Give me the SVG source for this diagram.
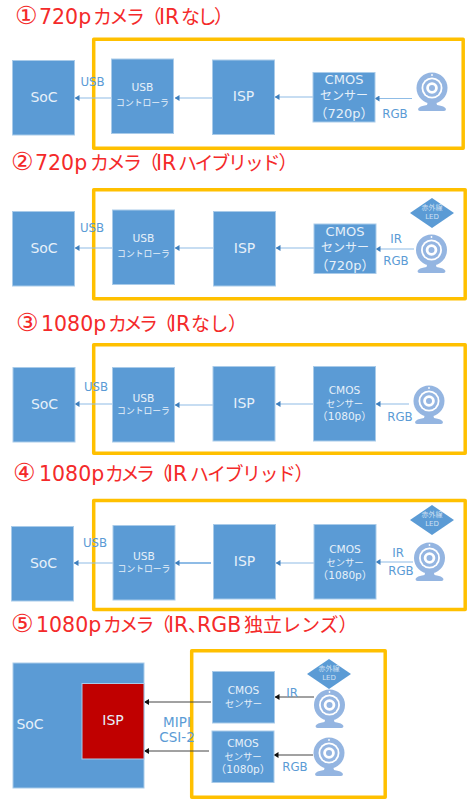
<svg xmlns="http://www.w3.org/2000/svg" xmlns:xlink="http://www.w3.org/1999/xlink" width="468" height="800" viewBox="0 0 468 800">
<style>
text{font-family:"DejaVu Sans","Noto Sans CJK JP",sans-serif;text-anchor:middle;dominant-baseline:central}
.t{fill:#f42a2a;font-size:20.5px;text-anchor:start;dominant-baseline:auto}
.q{font-size:19px}.o{font-size:25px}
.g{fill:#fff;stroke:#ffc000;stroke-width:3.5;stroke-linejoin:round}
.b{fill:#5b9bd5;stroke:#a9cbe9;stroke-width:1}
.r{fill:#c00000;stroke:#a9cbe9;stroke-width:1}
.w{fill:#e6f0f9}
.m{font-size:14px}.u{font-size:10.7px}.k{font-size:8.8px}.c{font-size:13px}.j{font-size:12px}.s{font-size:10.6px}.n{font-size:9.3px}
.l{fill:#5b9bd5;font-size:11.8px}.h{font-size:13.5px}
.e{font-size:7px;fill:#cfe0f2}
.a{fill:none;stroke:#8fbce6;stroke-width:1.2;marker-end:url(#ab)}
.d{fill:none;stroke:#444;stroke-width:1;marker-end:url(#ak)}
.cam{fill:#94b5e1}
</style>
<defs>
<marker id="ab" markerUnits="userSpaceOnUse" markerWidth="5" markerHeight="6" refX="4.500" refY="3" orient="auto"><path d="M0 0L5 3L0 6Z" fill="#3f7fbd"/></marker>
<marker id="ak" markerUnits="userSpaceOnUse" markerWidth="5" markerHeight="6" refX="4.500" refY="3" orient="auto"><path d="M0 0L5 3L0 6Z" fill="#111"/></marker>
<g id="camera">
<path class="cam" d="M-4 13L-5 17Q-13 18-14 21Q-14 23-12 23L12 23Q14 23 14 21Q13 18 5 17L4 13Z"/>
<circle class="cam" r="15.5"/>
<circle r="10.500" fill="#fff"/><circle class="cam" r="8.700"/><circle r="5.800" fill="#fff"/><circle r="3" fill="#94b5e1"/>
<circle cy="-13" r="0.9" fill="#fff"/>
</g>
<path id="led" d="M0 -15L22 0L0 15L-22 0Z" fill="#5b9bd5"/>
</defs>

<g id="titles">
<text class="t" y="24"><tspan class="o" x="15">①</tspan><tspan x="39">720p</tspan><tspan class="q" x="93" style="letter-spacing:-2.500px">カメラ（</tspan><tspan x="159">IR</tspan><tspan class="q" x="181" style="letter-spacing:-2.500px">なし）</tspan></text>
<text class="t" y="170"><tspan class="o" x="11">②</tspan><tspan x="35">720p</tspan><tspan class="q" x="90" style="letter-spacing:-2.500px">カメラ（</tspan><tspan x="156">IR</tspan><tspan class="q" x="178" style="letter-spacing:-2.200px">ハイブリッド）</tspan></text>
<text class="t" y="331"><tspan class="o" x="16">③</tspan><tspan x="41">1080p</tspan><tspan class="q" x="108" style="letter-spacing:-3.500px">カメラ（</tspan><tspan x="170">IR</tspan><tspan class="q" x="191" style="letter-spacing:-0.500px">なし）</tspan></text>
<text class="t" y="481"><tspan class="o" x="13">④</tspan><tspan x="39">1080p</tspan><tspan class="q" x="105" style="letter-spacing:-3.500px">カメラ（</tspan><tspan x="167">IR</tspan><tspan class="q" x="190" style="letter-spacing:-1.500px">ハイブリッド）</tspan></text>
<text class="t" y="632"><tspan class="o" x="11">⑤</tspan><tspan x="36">1080p</tspan><tspan class="q" x="103" style="letter-spacing:-2.750px">カメラ（</tspan><tspan x="168">IR</tspan><tspan class="q" x="188" style="letter-spacing:-10px">、</tspan><tspan x="197">RGB</tspan><tspan class="q" x="244">独立レンズ）</tspan></text>
</g>

<g id="frames">
<rect id="frame1" class="g" x="93.700" y="39.200" width="369.500" height="109"/>
<rect id="frame2" class="g" x="93.700" y="189.700" width="371.500" height="109"/>
<rect id="frame3" class="g" x="93.700" y="344.700" width="371.500" height="108.500"/>
<rect id="frame4" class="g" x="93.700" y="500.500" width="371.500" height="109"/>
<rect id="frame5" class="g" x="191.700" y="650.700" width="193.500" height="146.500"/>
</g>

<g id="connectors">
<path class="a" d="M111 98H75"/><path class="a" d="M212 98H175"/><path class="a" d="M313 97H275"/><path class="a" d="M412 98.500H375"/>
<path class="a" d="M112 248H75"/><path class="a" d="M213 248H175"/><path class="a" d="M314 248H276"/><path class="a" d="M414 249H376"/>
<path class="a" d="M112 404H75"/><path class="a" d="M213 405H175"/><path class="a" d="M313 404H276"/><path class="a" d="M409 404H376"/>
<path class="a" d="M113 563H74"/><path class="a" style="stroke-width:2" d="M211 563H175"/><path class="a" d="M314 563H276"/><path class="a" d="M413 562H376"/>
<path class="d" d="M211 702H144.500"/><path class="d" d="M209 751H144.500"/><path class="d" d="M314 697H275"/><path class="d" d="M313 755H274"/>
</g>

<g id="labels">
<text class="l" x="92.500" y="82">USB</text><text class="l" x="395" y="114">RGB</text>
<text class="l" x="92" y="228">USB</text><text class="l" x="396" y="239">IR</text><text class="l" x="396" y="261">RGB</text>
<text class="l" x="96" y="387">USB</text><text class="l" x="400" y="417">RGB</text>
<text class="l" x="95" y="543">USB</text><text class="l" x="398" y="553">IR</text><text class="l" x="401" y="571">RGB</text>
<text class="l" x="292" y="693">IR</text><text class="l" x="295" y="767">RGB</text>
<text class="l h" x="177" y="722">MIPI</text><text class="l h" x="177" y="737">CSI-2</text>
</g>

<g id="section1">
<g id="soc1"><rect class="b" x="12.500" y="60.500" width="62" height="74.500"/><text class="w m" x="44" y="97">SoC</text></g>
<g id="usb1"><rect class="b" x="111.500" y="59" width="62" height="74.500"/><text class="w u" x="142.500" y="87">USB</text><text class="w k" x="142.500" y="103">コントローラ</text></g>
<g id="isp1"><rect class="b" x="212.500" y="60" width="62" height="74.500"/><text class="w m" x="243.500" y="96">ISP</text></g>
<g id="cmos1"><rect class="b" x="313" y="72.500" width="62" height="49.500"/><text class="w c" x="344" y="79">CMOS</text><text class="w j" x="344" y="96">センサー</text><text class="w c" x="344" y="113">（720p）</text></g>
<use id="cam1" href="#camera" xlink:href="#camera" x="432" y="88"/>
</g>

<g id="section2">
<g id="soc2"><rect class="b" x="12.500" y="211.500" width="62" height="74.500"/><text class="w m" x="44" y="248">SoC</text></g>
<g id="usb2"><rect class="b" x="112.500" y="210" width="62" height="74.500"/><text class="w u" x="143.500" y="238">USB</text><text class="w k" x="143.500" y="254">コントローラ</text></g>
<g id="isp2"><rect class="b" x="213.500" y="211.500" width="62" height="74.500"/><text class="w m" x="244.500" y="248">ISP</text></g>
<g id="cmos2"><rect class="b" x="314" y="224" width="62" height="49.500"/><text class="w c" x="345" y="231">CMOS</text><text class="w j" x="345" y="248">センサー</text><text class="w c" x="345" y="265">（720p）</text></g>
<g id="led2"><use href="#led" xlink:href="#led" x="432" y="213"/><text class="e" x="432" y="208">赤外線</text><text class="e" x="432" y="217">LED</text></g>
<use id="cam2" href="#camera" xlink:href="#camera" x="431.500" y="250"/>
</g>

<g id="section3">
<g id="soc3"><rect class="b" x="13" y="367.500" width="62" height="74.500"/><text class="w m" x="44.500" y="404">SoC</text></g>
<g id="usb3"><rect class="b" x="112.500" y="367.500" width="62" height="74.500"/><text class="w u" x="143.500" y="398">USB</text><text class="w k" x="143.500" y="411">コントローラ</text></g>
<g id="isp3"><rect class="b" x="213" y="366.500" width="62" height="74.500"/><text class="w m" x="244" y="403">ISP</text></g>
<g id="cmos3"><rect class="b" x="313.500" y="366.500" width="62" height="74.500"/><text class="w s" x="344.500" y="390">CMOS</text><text class="w n" x="344.500" y="403">センサー</text><text class="w s" x="344.500" y="416">（1080p）</text></g>
<use id="cam3" href="#camera" xlink:href="#camera" x="429" y="401"/>
</g>

<g id="section4">
<g id="soc4"><rect class="b" x="11.500" y="526.500" width="62" height="74.500"/><text class="w m" x="43.500" y="563">SoC</text></g>
<g id="usb4"><rect class="b" x="113" y="525.500" width="62" height="74.500"/><text class="w u" x="144" y="556">USB</text><text class="w k" x="144" y="569">コントローラ</text></g>
<g id="isp4"><rect class="b" x="213.500" y="524.500" width="62" height="74.500"/><text class="w m" x="244.500" y="561">ISP</text></g>
<g id="cmos4"><rect class="b" x="314" y="524.500" width="62" height="74.500"/><text class="w s" x="345" y="549">CMOS</text><text class="w n" x="345" y="562">センサー</text><text class="w s" x="345" y="575">（1080p）</text></g>
<g id="led4"><use href="#led" xlink:href="#led" x="432" y="520"/><text class="e" x="432" y="515">赤外線</text><text class="e" x="432" y="524">LED</text></g>
<use id="cam4" href="#camera" xlink:href="#camera" x="429.500" y="558"/>
</g>

<g id="section5">
<g id="soc5"><rect class="b" x="13" y="663" width="131" height="125"/><text class="w m" x="30" y="724">SoC</text></g>
<g id="isp5"><rect class="r" x="82" y="683.500" width="62" height="75.500"/><text class="w m" x="113" y="720">ISP</text></g>
<g id="cmos5a"><rect class="b" x="212.500" y="671.500" width="62" height="51.500"/><text class="w s" x="243.500" y="690">CMOS</text><text class="w n" x="243.500" y="703">センサー</text></g>
<g id="cmos5b"><rect class="b" x="212" y="731" width="62" height="51.500"/><text class="w s" x="243" y="743">CMOS</text><text class="w n" x="243" y="756">センサー</text><text class="w s" x="243" y="769">（1080p）</text></g>
<g id="led5"><use href="#led" xlink:href="#led" x="329" y="674"/><text class="e" x="329" y="669">赤外線</text><text class="e" x="329" y="678">LED</text></g>
<use id="cam5a" href="#camera" xlink:href="#camera" x="329.500" y="705"/>
<use id="cam5b" href="#camera" xlink:href="#camera" x="329" y="753"/>
</g>
</svg>
